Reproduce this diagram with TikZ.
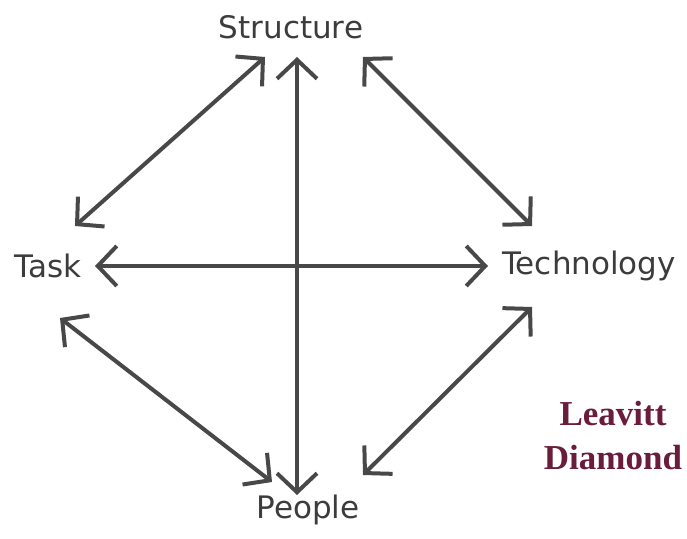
\documentclass[tikz,border=0pt]{standalone}
\usepackage{fontspec}
\setmainfont{DejaVu Sans}
\newfontfamily\titlefont{Liberation Serif}
\usetikzlibrary{arrows.meta}
\definecolor{arrowgray}{HTML}{484848}
\definecolor{labelgray}{HTML}{3C3C3C}
\definecolor{leavittred}{HTML}{6A1C3C}

\begin{document}
\begin{tikzpicture}[
    x=1pt, y=1pt,
    corner/.style={text=labelgray, font=\fontsize{31}{36}\selectfont, inner sep=0pt},
    title/.style={text=leavittred, font=\titlefont\bfseries\fontsize{35}{44}\selectfont, align=center, inner sep=0pt},
    biarrow/.style={draw=arrowgray, line width=4pt, {Straight Barb[length=19pt,width=40pt]}-{Straight Barb[length=19pt,width=40pt]}}
]
    \useasboundingbox (0,0) rectangle (687,538);

    % the four corners of the diamond
    \node [corner] (structure) at (291,511) {Structure};
    \node [corner] (task) at (48,272) {Task};
    \node [corner] (technology) at (589,272) {Technology};
    \node [corner] (people) at (308,28) {People};
    \node [title] (leavitt) at (613,102) {Leavitt\\Diamond};

    % arrow ends
    \coordinate (structure-end) at (297,481);
    \coordinate (people-end) at (297,43);
    \coordinate (task-end) at (95,272);
    \coordinate (technology-end) at (488,272);
    \coordinate (structure-left) at (265,481);
    \coordinate (task-up) at (75,312);
    \coordinate (structure-right) at (363,481);
    \coordinate (technology-up) at (532,312);
    \coordinate (task-down) at (60,220);
    \coordinate (people-left) at (272,56);
    \coordinate (technology-down) at (532,231);
    \coordinate (people-right) at (363,63);

    \draw [biarrow] (structure-end) -- (people-end);
    \draw [biarrow] (task-end) -- (technology-end);
    \draw [biarrow] (structure-left) -- (task-up);
    \draw [biarrow] (structure-right) -- (technology-up);
    \draw [biarrow] (task-down) -- (people-left);
    \draw [biarrow] (technology-down) -- (people-right);
\end{tikzpicture}
\end{document}
